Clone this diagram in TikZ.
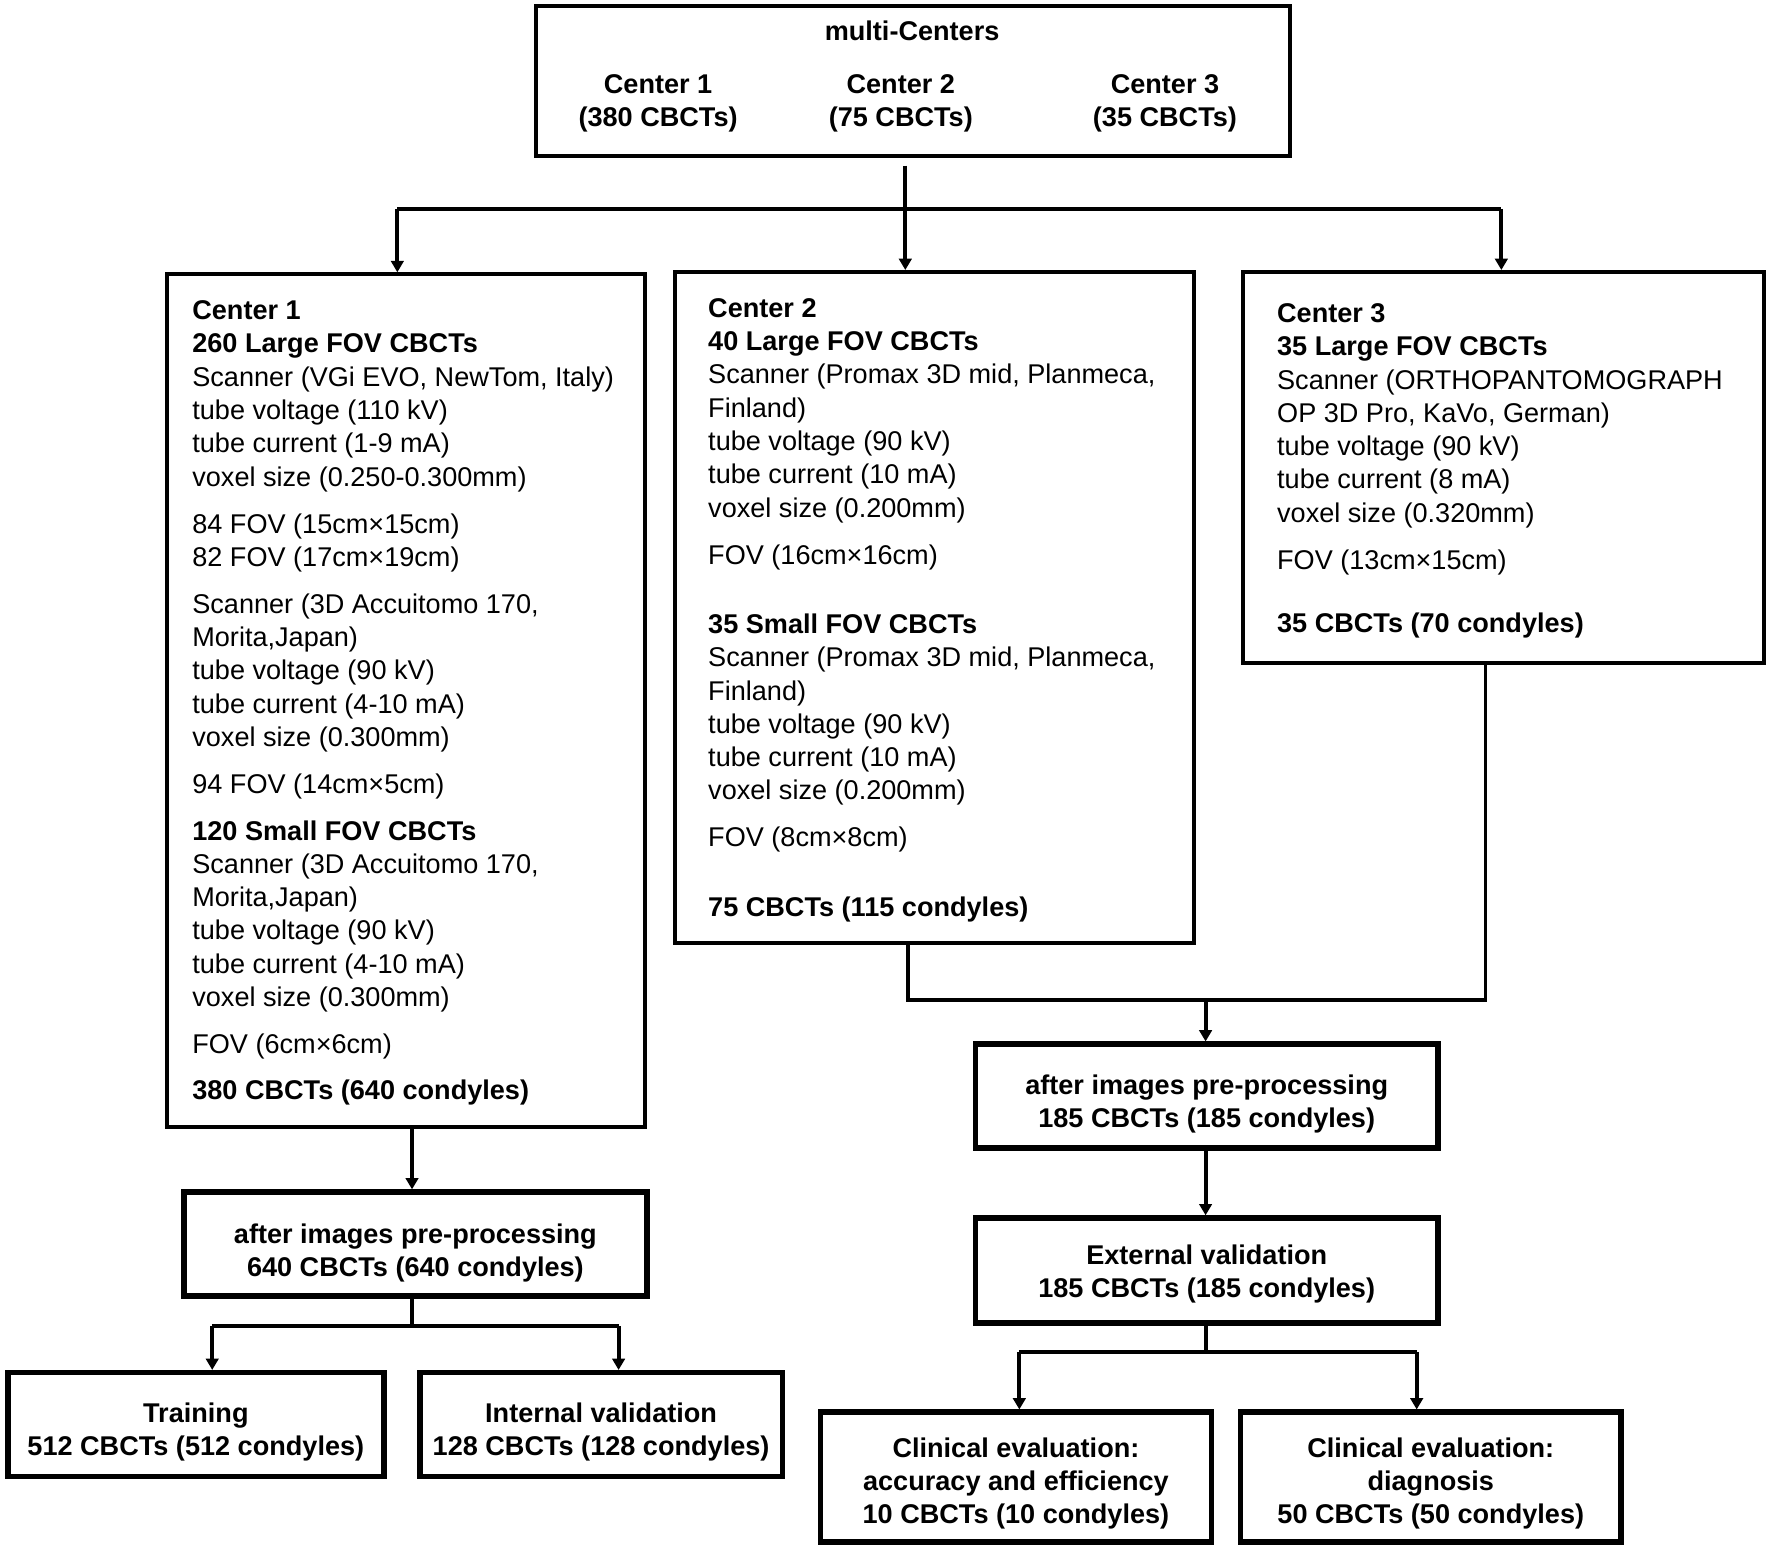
\documentclass[tikz,border=0pt]{standalone}
\usepackage{fontspec}
\setmainfont{Liberation Sans}
\usetikzlibrary{arrows.meta}
\newcommand\tsup[1]{\rule{0pt}{#1pt}}
\begin{document}
\begin{tikzpicture}[x=0.5pt,y=-0.5pt,
  bx/.style={draw, line width=1.8pt, inner sep=0pt},
  sbx/.style={draw, line width=2.4pt, inner sep=0pt, align=center,
    font=\bfseries\fontsize{12}{14.8}\selectfont},
  ntxt/.style={inner sep=0pt, align=center, font=\bfseries\fontsize{12}{14.6}\selectfont},
  txt/.style={inner sep=0pt, align=left, anchor=north west, font=\fontsize{12}{14.75}\selectfont},
  ln/.style={line width=1.7pt},
  arr/.style={ln, -{Triangle[length=5pt,width=5.5pt]}}]
\useasboundingbox (0,0) rectangle (1568,1372);
% boxes
\node[bx, minimum width=334pt, minimum height=66.5pt] (top) at (809,71.5) {};
\node[ntxt] (tt) at (808,27) {multi-Centers};
\node[ntxt] (tc1) at (583,91.5) {Center 1\\(380 CBCTs)};
\node[ntxt] (tc2) at (798,91.5) {Center 2\\(75 CBCTs)};
\node[ntxt] (tc3) at (1032,91.5) {Center 3\\(35 CBCTs)};

\node[bx, minimum width=211.5pt, minimum height=377.5pt] (c1) at (359.5,620.5) {};
\node[txt] (c1t) at (170,266) {\textbf{Center 1}\\
\textbf{260 Large FOV CBCTs}\\
Scanner (VGi EVO, NewTom, Italy)\\
tube voltage (110 kV)\\
tube current (1-9 mA)\\
voxel size (0.250-0.300mm)\\[6pt]
84 FOV (15cm×15cm)\\
82 FOV (17cm×19cm)\\[6pt]
Scanner (3D Accuitomo 170,\\
Morita,Japan)\\
tube voltage (90 kV)\\
tube current (4-10 mA)\\
voxel size (0.300mm)\\[6pt]
94 FOV (14cm×5cm)\\[6pt]
\textbf{120 Small FOV CBCTs}\\
Scanner (3D Accuitomo 170,\\
Morita,Japan)\\
tube voltage (90 kV)\\
tube current (4-10 mA)\\
voxel size (0.300mm)\\[6pt]
FOV (6cm×6cm)\\[5.5pt]
\textbf{380 CBCTs (640 condyles)}};

\node[bx, minimum width=230pt, minimum height=297pt] (c2) at (828,538) {};
\node[txt] (c2t) at (627,264) {\textbf{Center 2}\\
\textbf{40 Large FOV CBCTs}\\
Scanner (Promax 3D mid, Planmeca,\\
Finland)\\
tube voltage (90 kV)\\
tube current (10 mA)\\
voxel size (0.200mm)\\[6pt]
FOV (16cm×16cm)\\[16pt]
\textbf{35 Small FOV CBCTs}\\
Scanner (Promax 3D mid, Planmeca,\\
Finland)\\
tube voltage (90 kV)\\
tube current (10 mA)\\
voxel size (0.200mm)\\[6pt]
FOV (8cm×8cm)\\[16pt]
\textbf{75 CBCTs (115 condyles)}};

\node[bx, minimum width=231pt, minimum height=173pt] (c3) at (1332,414) {};
\node[txt] (c3t) at (1131,268.5) {\textbf{Center 3}\\
\textbf{35 Large FOV CBCTs}\\
Scanner (ORTHOPANTOMOGRAPH\\
OP 3D Pro, KaVo, German)\\
tube voltage (90 kV)\\
tube current (8 mA)\\
voxel size (0.320mm)\\[6pt]
FOV (13cm×15cm)\\[13.5pt]
\textbf{35 CBCTs (70 condyles)}};

\node[sbx, minimum width=205pt, minimum height=46pt] (preR) at (1069,971) {\tsup{15.8}after images pre-processing\\185 CBCTs (185 condyles)};
\node[sbx, minimum width=205pt, minimum height=46pt] (preL) at (368,1102) {\tsup{16.8}after images pre-processing\\640 CBCTs (640 condyles)};
\node[sbx, minimum width=166.5pt, minimum height=46pt] (tr) at (173.5,1262) {\tsup{15.3}Training\\512 CBCTs (512 condyles)};
\node[sbx, minimum width=160.5pt, minimum height=46pt] (iv) at (532.5,1262) {\tsup{15.3}Internal validation\\128 CBCTs (128 condyles)};
\node[sbx, minimum width=205pt, minimum height=46.5pt] (ev) at (1069,1125.5) {\tsup{11.8}External validation\\185 CBCTs (185 condyles)};
\node[sbx, minimum width=173pt, minimum height=57.5pt] (ce1) at (900,1308.5) {\tsup{14.3}Clinical evaluation:\\accuracy and efficiency\\10 CBCTs (10 condyles)};
\node[sbx, minimum width=168.5pt, minimum height=57.5pt] (ce2) at (1267.5,1308.5) {\tsup{14.3}Clinical evaluation:\\diagnosis\\50 CBCTs (50 condyles)};

% junction coordinates
\coordinate (j0) at (802,185);
\coordinate (jL) at (352,185);
\coordinate (jR) at (1330,185);
\coordinate (m2) at (804,886);
\coordinate (m3) at (1316,886);
\coordinate (mid) at (1068,886);
\coordinate (k1) at (365,1175);
\coordinate (kl) at (188,1175);
\coordinate (kr) at (548,1175);
\coordinate (q0) at (1068,1198);
\coordinate (ql) at (903,1198);
\coordinate (qr) at (1255,1198);

% connectors
\draw[arr, shorten <=3.5pt] (j0 |- top.south) -- (j0 |- c2.north);
\draw[ln] (jL) -- (jR);
\draw[arr] (jL) -- (jL |- c1.north);
\draw[arr] (jR) -- (jR |- c3.north);
\draw[ln] (m2 |- c2.south) -- (m2) -- (m3) -- (m3 |- c3.south);
\draw[arr] (mid) -- (mid |- preR.north);
\draw[arr] (k1 |- c1.south) -- (k1 |- preL.north);
\draw[ln] (k1 |- preL.south) -- (k1);
\draw[ln] (kl) -- (kr);
\draw[arr] (kl) -- (kl |- tr.north);
\draw[arr] (kr) -- (kr |- iv.north);
\draw[arr] (mid |- preR.south) -- (mid |- ev.north);
\draw[ln] (q0 |- ev.south) -- (q0);
\draw[ln] (ql) -- (qr);
\draw[arr] (ql) -- (ql |- ce1.north);
\draw[arr] (qr) -- (qr |- ce2.north);
\end{tikzpicture}
\end{document}
